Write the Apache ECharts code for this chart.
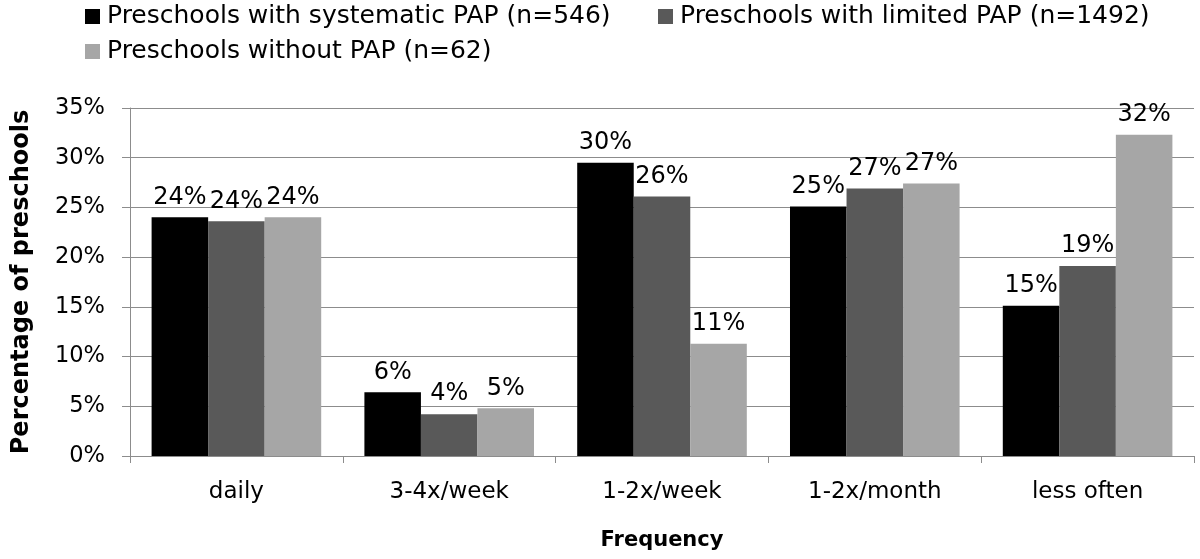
<!DOCTYPE html>
<html>
<head>
<meta charset="utf-8">
<script src="https://cdn.jsdelivr.net/npm/echarts@6/dist/echarts.min.js"></script>
<style>html,body{margin:0;padding:0;background:#fff;}#c{width:1200px;height:559px;}</style>
</head>
<body>
<div id="c"></div>
<script>
const categories = ['daily', '3-4x/week', '1-2x/week', '1-2x/month', 'less often'];
const seriesNames = ['Preschools with systematic PAP (n=546)', 'Preschools with limited PAP (n=1492)', 'Preschools without PAP (n=62)'];
const systematic = [24.0, 6.4, 29.5, 25.1, 15.1];
const limited = [23.6, 4.2, 26.1, 26.9, 19.1];
const without = [24.0, 4.8, 11.3, 27.4, 32.3];
const colors = ['#000000', '#595959', '#a6a6a6'];

const font = 'DejaVu Sans, sans-serif';
const chart = echarts.init(document.getElementById('c'));
const values = [systematic, limited, without];
const legendPos = [{left: 85, top: 4}, {left: 658, top: 4}, {left: 85, top: 39}];
chart.setOption({
  animation: false,
  legend: seriesNames.map((n, i) => ({
    data: [n], left: legendPos[i].left, top: legendPos[i].top, itemWidth: 15, itemHeight: 15, itemGap: 5,
    icon: 'rect', textStyle: {fontFamily: font, fontSize: 25, color: '#000', padding: [0, 0, 0, 2]}, padding: 0
  })),
  grid: {left: 130, right: 6, top: 108, bottom: 103},
  xAxis: {
    type: 'category', data: categories,
    name: 'Frequency', nameLocation: 'middle', nameGap: 74,
    nameTextStyle: {fontFamily: font, fontSize: 21, fontWeight: 'bold', color: '#000'},
    axisLine: {lineStyle: {color: '#8c8c8c', width: 1}},
    axisTick: {show: true, length: 7, lineStyle: {color: '#8c8c8c'}},
    axisLabel: {fontFamily: font, fontSize: 23, color: '#000', margin: 25}
  },
  yAxis: {
    type: 'value', min: 0, max: 35, interval: 5,
    name: 'Percentage of preschools', nameLocation: 'middle', nameGap: 96,
    nameTextStyle: {fontFamily: font, fontSize: 24, fontWeight: 'bold', color: '#000'},
    axisLine: {show: true, lineStyle: {color: '#8c8c8c'}},
    axisTick: {show: true, length: 8, lineStyle: {color: '#8c8c8c'}},
    axisLabel: {fontFamily: font, fontSize: 22.5, color: '#000', formatter: '{value}%', margin: 25},
    splitLine: {lineStyle: {color: '#8c8c8c', width: 1}}
  },
  series: seriesNames.map((n, i) => ({
    name: n, type: 'bar', data: values[i],
    barGap: '0%', barCategoryGap: '20.3%',
    itemStyle: {color: colors[i]},
    label: {show: true, position: 'top', distance: 8, fontFamily: font, fontSize: 24, color: '#000',
      formatter: p => Math.round(p.value) + '%'}
  }))
});
</script>
</body>
</html>
